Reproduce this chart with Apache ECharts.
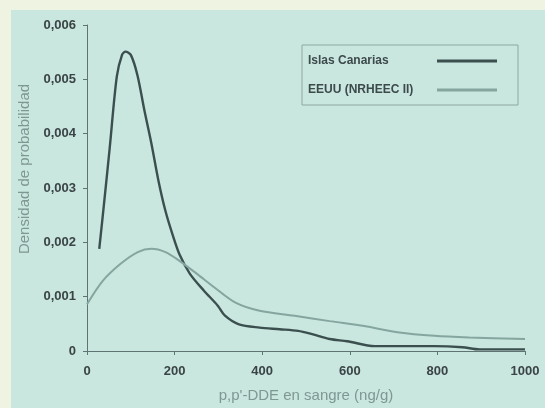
<!DOCTYPE html>
<html>
<head>
<meta charset="utf-8">
<script src="https://cdn.jsdelivr.net/npm/echarts@6/dist/echarts.min.js"></script>
<style>
  html, body { margin: 0; padding: 0; background: #eff3e1; }
  #chart { width: 545px; height: 408px; }
</style>
</head>
<body>
<div id="chart"></div>
<script>
// curvas de densidad: [ng/g, densidad]
var canarias = [
  [28, 0.00188], [40, 0.0028], [52, 0.00375], [68, 0.00505], [80, 0.00545],
  [88, 0.00551], [100, 0.00545], [115, 0.00508], [131, 0.00443], [147, 0.00382],
  [163, 0.00314], [179, 0.00258], [195, 0.00215], [211, 0.00178], [235, 0.00142],
  [267, 0.00111], [299, 0.00083], [315, 0.00065], [347, 0.00049], [394, 0.00043],
  [440, 0.0004], [482, 0.00037], [514, 0.00031], [554, 0.00022], [594, 0.00018],
  [657, 0.00009], [793, 0.00009], [857, 0.00007], [896, 0.00003], [1000, 0.00003]
];
var eeuu = [
  [0, 0.00086], [36, 0.00129], [76, 0.0016], [116, 0.00182], [147, 0.00188],
  [179, 0.00182], [211, 0.00166], [251, 0.00142], [291, 0.00117], [339, 0.00089],
  [394, 0.00074], [474, 0.00065], [554, 0.00055], [633, 0.00046], [713, 0.00034],
  [793, 0.00028], [873, 0.00025], [1000, 0.00022]
];
var seriesNames = ['Islas Canarias', 'EEUU (NRHEEC II)'];

var font = 'Liberation Sans, Arial, sans-serif';
var chart = echarts.init(document.getElementById('chart'));
var option = {
  backgroundColor: '#eff3e1',
  animation: false,
  graphic: [{
    type: 'rect', z: -10, silent: true,
    shape: { x: 11, y: 10, width: 534, height: 398 },
    style: { fill: '#c9e6df' }
  }],
  grid: { left: 87, right: 20, top: 25, bottom: 57, outerBoundsMode: 'none' },
  legend: {
    orient: 'vertical',
    left: 302, top: 45,
    align: 'right',
    padding: [10, 21, 9, 6],
    itemGap: 17,
    itemWidth: 60,
    itemHeight: 3,
    icon: 'rect',
    borderColor: '#8fa8a2',
    borderWidth: 1,
    formatter: function (name) { return '{t|' + name + '}'; },
    textStyle: {
      rich: { t: { fontFamily: font, fontWeight: 'bold', fontSize: 12, color: '#3c4a4a', width: 124, align: 'left' } }
    },
    data: seriesNames
  },
  xAxis: {
    type: 'value', min: 0, max: 1000, interval: 200,
    name: "p,p'-DDE en sangre (ng/g)", nameLocation: 'middle', nameGap: 37,
    nameTextStyle: { fontFamily: font, fontSize: 15, color: '#7f9793' },
    axisLine: { lineStyle: { color: '#5f7472', width: 1 } },
    axisTick: { show: true, length: 4, lineStyle: { color: '#5f7472' } },
    splitLine: { show: false },
    axisLabel: {
      fontFamily: font, fontWeight: 'bold', fontSize: 13, color: '#3a4444', margin: 14,
      formatter: function (v) { return String(v); }
    }
  },
  yAxis: {
    type: 'value', min: 0, max: 0.006, interval: 0.001,
    name: 'Densidad de probabilidad', nameLocation: 'middle', nameGap: 52,
    nameTextStyle: { fontFamily: font, fontSize: 15, color: '#7f9793', padding: [0, 0, 0, 38] },
    axisLine: { show: true, lineStyle: { color: '#5f7472', width: 1 } },
    axisTick: { show: true, length: 4, lineStyle: { color: '#5f7472' } },
    splitLine: { show: false },
    axisLabel: {
      fontFamily: font, fontWeight: 'bold', fontSize: 13, color: '#3a4444', margin: 11,
      formatter: function (v) { return v === 0 ? '0' : v.toFixed(3).replace('.', ','); }
    }
  },
  series: [
    {
      name: seriesNames[0], type: 'line', data: canarias, smooth: 0.3,
      symbol: 'none', lineStyle: { color: '#3b4f4e', width: 2.4 }, itemStyle: { color: '#3b4f4e' }
    },
    {
      name: seriesNames[1], type: 'line', data: eeuu, smooth: 0.3,
      symbol: 'none', lineStyle: { color: '#84a69e', width: 2 }, itemStyle: { color: '#84a69e' }
    }
  ]
};
chart.setOption(option);
</script>
</body>
</html>
